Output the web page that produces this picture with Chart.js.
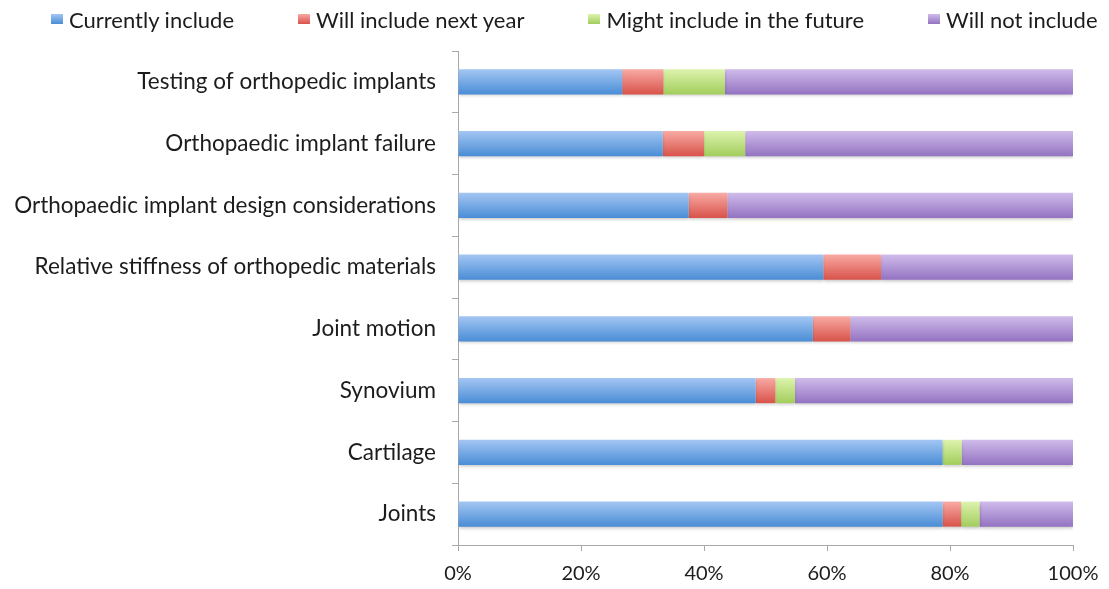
<!DOCTYPE html>
<html lang="en">
<head>
  <meta charset="UTF-8">
  <title>Orthopaedic topics in the curriculum</title>
  <script src="https://cdn.jsdelivr.net/npm/chart.js"></script>
  <style>
    html, body {
      margin: 0;
      padding: 0;
      background: #fff;
    }
    #wrap {
      position: relative;
      width: 1109px;
      height: 589px;
    }
    #legenda {
      position: absolute;
      top: 6px;
      left: 51px;
      margin: 0;
      padding: 0;
      list-style: none;
      display: flex;
      font-family: Lato, 'Open Sans', sans-serif;
      font-size: 22px;
      line-height: 28px;
      color: #1c1c1c;
      white-space: nowrap;
    }
    #legenda li {
      display: flex;
      align-items: center;
      margin-right: 64px;
    }
    #legenda li span.caixa {
      display: inline-block;
      width: 12px;
      height: 10px;
      margin-right: 6px;
      margin-top: -2px;
    }
  </style>
</head>
<body>
<div id="wrap">
  <ul id="legenda"></ul>
  <canvas id="grafico"></canvas>
</div>

<script>
  // topics, top to bottom
  const topics = [
    'Testing of orthopedic implants',
    'Orthopaedic implant failure',
    'Orthopaedic implant design considerations',
    'Relative stiffness of orthopedic materials',
    'Joint motion',
    'Synovium',
    'Cartilage',
    'Joints'
  ];

  // share of responses (%)
  const currentlyInclude = [26.7, 33.3, 37.5, 59.4, 57.7, 48.4, 78.8, 78.8];
  const nextYear         = [6.7, 6.7, 6.3, 9.4, 6.1, 3.2, 0, 3.0];
  const mightInclude     = [10.0, 6.7, 0, 0, 0, 3.2, 3.1, 3.0];
  const willNotInclude   = [56.6, 53.3, 56.2, 31.2, 36.2, 45.2, 18.1, 15.2];

  const xTicks = [0, 20, 40, 60, 80, 100];

  // [top, bottom] colour of each series
  const tons = [
    ['#a3c6f3', '#4a8dd6'],
    ['#f8aaa4', '#d8534a'],
    ['#ddf3ad', '#a2cd5c'],
    ['#cfbbea', '#9473c2']
  ];

  const BAR_PCT = 0.405;
  const fonte = "Lato, 'Open Sans', sans-serif";

  // vertical gradient for each bar, light on top and darker at the bottom
  function barFill(top, bottom) {
    return (c) => {
      const chart = c.chart;
      const y = chart.scales.y;
      if (!chart.chartArea || !y || c.type !== 'data') return bottom;
      const cy = y.getPixelForValue(c.dataIndex);
      const half = (y.height / topics.length) * BAR_PCT / 2;
      const g = chart.ctx.createLinearGradient(0, cy - half, 0, cy + half);
      g.addColorStop(0, top);
      g.addColorStop(1, bottom);
      return g;
    };
  }

  const sombra = {
    id: 'sombra',
    beforeDatasetsDraw(chart) {
      const ctx = chart.ctx;
      ctx.save();
      ctx.shadowColor = 'rgba(0,0,0,0.22)';
      ctx.shadowBlur = 3;
      ctx.shadowOffsetY = 2;
    },
    afterDatasetsDraw(chart) {
      chart.ctx.restore();
    }
  };

  // legend as an html list above the canvas
  const htmlLegenda = {
    id: 'htmlLegenda',
    afterUpdate(chart) {
      const ul = document.getElementById('legenda');
      ul.innerHTML = '';
      chart.data.datasets.forEach((ds, i) => {
        const li = document.createElement('li');
        const caixa = document.createElement('span');
        caixa.className = 'caixa';
        caixa.style.background = 'linear-gradient(' + tons[i][0] + ', ' + tons[i][1] + ')';
        li.appendChild(caixa);
        li.appendChild(document.createTextNode(ds.label));
        ul.appendChild(li);
      });
    }
  };

  const ctx = document.getElementById('grafico').getContext('2d');
  new Chart(ctx, {
    type: 'bar',
    data: {
      labels: topics,
      datasets: [
        { label: 'Currently include', data: currentlyInclude, backgroundColor: barFill(...tons[0]) },
        { label: 'Will include next year', data: nextYear, backgroundColor: barFill(...tons[1]) },
        { label: 'Might include in the future', data: mightInclude, backgroundColor: barFill(...tons[2]) },
        { label: 'Will not include', data: willNotInclude, backgroundColor: barFill(...tons[3]) }
      ]
    },
    options: {
      indexAxis: 'y',
      responsive: true,
      maintainAspectRatio: false,
      animation: false,
      datasets: {
        bar: {
          categoryPercentage: 1,
          barPercentage: BAR_PCT,
          borderWidth: 0
        }
      },
      layout: {
        padding: 0
      },
      plugins: {
        tooltip: { enabled: false },
        legend: { display: false }
      },
      scales: {
        x: {
          stacked: true,
          min: 0,
          max: 100,
          afterBuildTicks(scale) {
            scale.ticks = xTicks.map(v => ({ value: v }));
          },
          afterFit(scale) {
            scale.height = 44;
            scale.paddingRight = 36;
          },
          grid: {
            drawOnChartArea: false,
            drawTicks: true,
            tickLength: 6,
            color: '#a9a9a9'
          },
          border: { color: '#a9a9a9', width: 1 },
          ticks: {
            padding: 11,
            color: '#1c1c1c',
            font: { family: fonte, size: 20 },
            callback: v => v + '%'
          }
        },
        y: {
          stacked: true,
          afterFit(scale) {
            scale.width = 458;
            scale.paddingTop = 51;
          },
          grid: {
            offset: true,
            drawOnChartArea: false,
            drawTicks: true,
            tickLength: 6,
            color: '#a9a9a9'
          },
          border: { color: '#a9a9a9', width: 1 },
          ticks: {
            padding: 16,
            color: '#1c1c1c',
            font: { family: fonte, size: 22.5 }
          }
        }
      }
    },
    plugins: [sombra, htmlLegenda]
  });
</script>
</body>
</html>
